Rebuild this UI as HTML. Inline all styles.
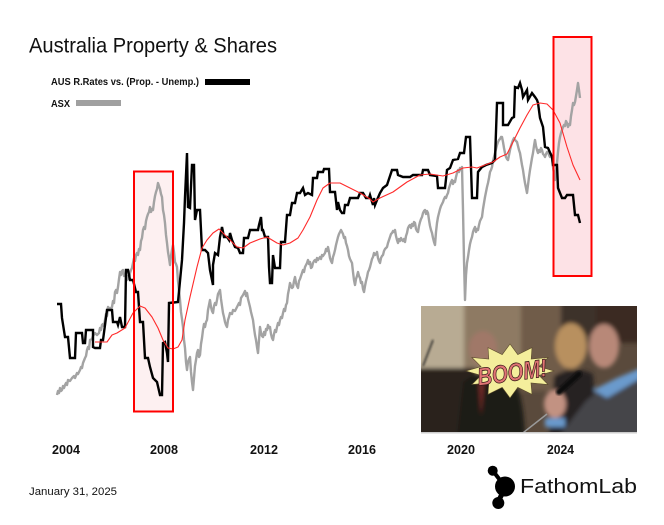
<!DOCTYPE html>
<html>
<head>
<meta charset="utf-8">
<style>
html,body{margin:0;padding:0;background:#fff;}
svg{display:block;}
text{font-family:"Liberation Sans",sans-serif;}
</style>
</head>
<body>
<svg width="664" height="525" viewBox="0 0 664 525" xmlns="http://www.w3.org/2000/svg">
<defs>
<filter id="bl" x="-20%" y="-20%" width="140%" height="140%"><feGaussianBlur stdDeviation="2.2"/></filter>
<filter id="bl2" x="-20%" y="-20%" width="140%" height="140%"><feGaussianBlur stdDeviation="1"/></filter>
<clipPath id="pc"><rect x="0" y="0" width="216" height="127"/></clipPath>
</defs>
<rect width="664" height="525" fill="#fff"/>

<!-- Title -->
<text x="29" y="52.5" font-size="21" fill="#111" textLength="248" lengthAdjust="spacingAndGlyphs">Australia Property &amp; Shares</text>

<!-- Legend -->
<text x="51" y="85" font-size="10.5" font-weight="bold" fill="#111" textLength="148" lengthAdjust="spacingAndGlyphs">AUS R.Rates vs. (Prop. - Unemp.)</text>
<rect x="205" y="79" width="45" height="6" fill="#000"/>
<text x="51" y="107" font-size="10.5" font-weight="bold" fill="#111" textLength="19" lengthAdjust="spacingAndGlyphs">ASX</text>
<rect x="76" y="100" width="45" height="6" fill="#a0a0a0"/>

<!-- highlight rectangles fill -->
<rect x="134" y="171.5" width="39" height="240" fill="#fdf0f1"/>
<rect x="553.5" y="37" width="38" height="239" fill="#fde2e6"/>

<!-- ASX gray -->
<polyline fill="none" stroke="#a3a3a3" stroke-width="2.4" stroke-linejoin="round" points="57,395 58,391 59,393 60,388 61,391 62,390 63,386 64,388 65,385 66,383 67,385 68,380 70,381 72,378 74,376 75,378 77,373 78,374 80,370 81,367 82,368 83,363 85,358 86,356 87,350 88,347 89,349 90,340 92,339 93,336 95,333 97,335 99,333 100,328 101,330 102,325 103,324 104,326 105,320 106,314 107,316 108,307 110,309 112,307 113,301 114,303 115,292 116,290 117,293 118,287 119,279 120,272 121,275 122,271 123,270 124,276 125,274 127,280 128,276 129,279 130,273 131,270 132,268 133,263 134,258 135,261 136,255 137,253 138,255 139,249 140,250 141,241 142,238 143,230 144,227 145,229 146,221 147,217 148,214 149,212 150,207 151,212 152,209 153,210 154,202 155,196 156,192 157,189 158,183 159,186 160,189 161,194 162,197 163,210 164,215 165,223 166,235 167,243 168,252 169,258 170,265 171,256 172,250 173,245 174,252 175,262 176,264 177,267 178,281 179,290 180,300 181,312 182,319 183,327 184,340 185,348 186,362 187,370 188,362 189,359 190,357 191,372 192,382 193,390 194,378 195,366 196,360 197,353 198,350 199,357 200,355 201,344 202,338 203,330 204,324 205,327 206,322 207,320 208,310 209,305 210,300 211,307 212,311 213,313 214,306 215,303 216,305 217,300 218,294 219,292 220,290 221,299 222,306 223,313 224,317 225,322 226,325 227,327 228,320 229,317 230,313 232,314 233,310 235,311 237,307 239,303 240,305 241,298 243,295 245,291 246,296 247,293 248,299 249,303 250,307 251,312 252,316 253,320 254,328 255,335 256,340 257,347 258,353 259,340 260,327 261,333 262,336 263,337 264,332 265,335 266,329 267,330 268,325 269,328 270,327 271,334 272,338 273,340 274,334 275,330 276,332 277,327 278,323 279,325 280,320 281,317 282,318 283,313 284,309 285,311 286,305 287,303 288,294 289,289 290,283 291,286 292,288 293,287 294,281 295,277 296,283 297,286 298,288 299,281 300,279 301,276 302,273 303,270 304,272 305,267 306,265 307,263 308,260 309,264 310,262 311,268 312,267 313,263 314,261 315,260 316,262 317,258 318,260 320,257 321,259 322,255 323,256 325,253 326,249 327,251 328,247 329,252 330,258 331,261 332,263 333,257 334,254 335,250 336,245 337,241 338,237 339,234 340,232 341,230 342,232 343,234 344,238 345,237 346,243 347,246 348,250 349,256 350,259 351,261 352,263 353,272 354,280 355,285 356,279 357,276 358,272 359,276 360,278 361,283 362,282 363,289 364,292 365,286 366,281 367,277 368,272 369,270 370,267 371,263 372,259 373,257 374,253 375,255 376,254 377,252 378,258 379,261 380,263 381,258 382,256 383,255 384,251 385,249 386,248 387,247 388,243 389,240 390,237 391,234 392,233 393,231 394,232 395,230 396,236 397,240 398,243 399,239 400,241 401,238 402,240 403,241 404,239 405,242 406,236 407,233 408,228 409,226 410,225 411,228 412,224 413,226 414,222 415,223 416,229 417,231 418,232 419,226 420,222 421,219 422,217 423,213 424,211 425,210 426,214 427,211 428,213 429,220 430,226 431,230 432,233 433,238 434,242 435,245 436,232 437,223 438,217 439,213 440,209 441,206 442,204 443,202 444,199 445,197 446,198 447,195 448,193 449,188 450,185 451,182 452,180 453,184 454,181 455,182 456,177 457,173 458,170 459,172 460,168 461,170 462,167 463,210 464,260 465,300 466,275 467,263 468,257 469,250 470,244 471,240 472,237 473,232 474,229 475,227 476,232 477,229 478,230 479,225 480,221 481,219 482,217 483,209 484,203 485,197 486,192 487,187 488,183 489,178 490,172 491,170 492,167 493,161 494,157 495,153 496,149 497,145 498,142 499,140 500,139 501,137 502,137 503,142 504,148 505,153 506,157 507,159 508,160 509,155 510,150 511,146 512,143 513,140 514,138 515,140 516,141 517,142 518,146 519,150 520,153 521,159 522,165 523,170 524,177 525,183 526,188 527,193 528,185 529,177 530,170 531,164 532,158 533,153 534,146 535,140 536,146 537,150 538,153 539,150 540,152 541,148 542,150 543,154 544,155 545,157 546,154 547,152 548,152 549,155 550,157 551,154 552,158 553,167 554,174 555,180 556,170 557,163 558,152 559,143 560,137 561,133 562,130 563,127 564,125 565,126 566,121 567,123 568,127 569,124 570,125 571,116 572,110 573,103 574,105 575,102 576,96 577,90 578,83 579,90 580,98"/>

<!-- Black series -->
<polyline fill="none" stroke="#000" stroke-width="2.4" stroke-linejoin="miter" points="57,304 61,304 62,318 65,337 68,337 70,358 75,358 76,333 82,333 83,343 85,343 86,330 93,330 93,347 95,348 100,348 101,340 103,340 107,310 112,310 113,322 117,322 118,325 120,317 122,327 125,327 126,270 128,270 130,280 133,280 136,292 138,292 140,322 143,322 145,358 148,358 150,367 153,378 157,382 160,395 162,395 163,343 165,342 167,353 168,362 169,303 178,302 182,260 184,223 185,197 187,153 188,207 190,208 192,165 194,165 195,220 197,210 200,210 202,250 205,250 208,253 210,270 213,285 213,265 215,253 218,255 220,237 222,227 224,237 227,237 229,240 230,233 232,240 235,247 238,248 240,253 243,253 244,238 248,238 250,230 258,230 259,225 261,217 262,230 263,230 265,237 268,237 269,267 270,283 272,283 273,255 275,268 280,268 281,242 285,242 287,215 290,215 292,203 295,203 297,193 300,193 303,188 305,195 308,193 312,195 313,178 317,178 318,172 323,172 324,169 329,169 330,192 335,192 337,210 338,202 340,210 342,213 344,213 345,205 348,205 350,198 358,198 360,193 363,193 366,198 369,198 370,195 373,205 374,198 375,205 377,200 380,193 383,188 387,185 392,170 397,170 398,175 403,177 410,177 413,175 422,175 423,170 428,170 430,175 437,176 438,188 445,188 447,170 450,168 453,160 458,159 460,153 464,153 466,137 470,137 472,198 477,198 478,172 482,167 486,165 492,163 495,160 497,103 503,103 503,125 508,125 512,118 514,117 515,87 518,88 520,83 522,90 523,97 527,90 528,100 532,93 535,97 537,100 538,103 540,118 543,127 545,147 548,148 552,157 553,165 557,165 558,188 562,198 565,198 567,195 573,195 575,215 578,215 580,223"/>

<!-- Red MA -->
<polyline fill="none" stroke="#ff2a2a" stroke-width="1.1" stroke-linejoin="round" points="95,342 107,342 112,335 117,333 125,328 133,313 140,306 145,308 152,317 158,328 163,340 168,348 173,349 178,347 182,340 185,320 190,297 197,267 202,248 207,240 213,233 219,229 223,233 230,240 237,247 243,248 250,243 260,239 267,237 272,240 277,243 283,245 290,243 298,238 303,230 310,217 317,200 323,188 330,183 340,183 350,188 360,193 370,199 373,202 380,198 393,192 407,182 420,175 430,174 443,176 453,173 463,168 472,167 477,168 485,165 493,162 500,157 507,154 513,142 520,128 527,115 533,105 540,103 547,104 553,110 560,123 567,147 573,165 580,180"/>

<!-- rectangle borders -->
<rect x="134" y="171.5" width="39" height="240" fill="none" stroke="#ff0000" stroke-width="2"/>
<rect x="553.5" y="37" width="38" height="239" fill="none" stroke="#ff0000" stroke-width="2"/>

<!-- Photo -->
<g transform="translate(421,306)">
<g clip-path="url(#pc)">
<rect x="0" y="0" width="216" height="127" fill="#5a4a3c"/>
<g filter="url(#bl)">
<rect x="-5" y="-5" width="48" height="72" fill="#b8ab93"/>
<rect x="43" y="-5" width="62" height="85" fill="#8e7a64"/>
<rect x="100" y="-5" width="45" height="90" fill="#705c4a"/>
<rect x="140" y="-5" width="80" height="35" fill="#3c3129"/>
<rect x="-5" y="62" width="60" height="70" fill="#2a231e"/>
<ellipse cx="62" cy="42" rx="14" ry="17" fill="#a07868"/>
<path d="M36,130 L42,76 Q62,60 88,68 Q102,80 104,130 Z" fill="#1f1a18"/>
<path d="M58,75 L63,75 L60,110 Z" fill="#7a2a2a"/>
<ellipse cx="150" cy="40" rx="16" ry="23" fill="#b8905e"/>
<path d="M128,130 L133,70 Q152,58 172,68 L176,130 Z" fill="#262220"/>
<rect x="175" y="-5" width="45" height="42" fill="#3b2a22"/>
<ellipse cx="183" cy="40" rx="15" ry="22" fill="#b88878"/>
<path d="M138,130 L165,95 L186,78 L220,62 L220,130 Z" fill="#44444a"/>
<path d="M172,84 L196,72 L220,62 L220,72 L186,92 Z" fill="#6a9acc"/>
<ellipse cx="134" cy="98" rx="11" ry="14" fill="#c29282"/>
<rect x="124" y="112" width="20" height="9" fill="#6a9acc"/>
</g>
<line x1="138" y1="86" x2="158" y2="68" stroke="#111" stroke-width="6" stroke-linecap="round" filter="url(#bl2)"/>
<line x1="126" y1="108" x2="98" y2="130" stroke="#9a9a9a" stroke-width="1.5"/>
<line x1="2" y1="60" x2="12" y2="34" stroke="#222" stroke-width="1.5" filter="url(#bl2)"/>
<polygon points="133,65 118,69.4 127,78.5 110,77 111,88.4 96.8,81.4 89,92 81.2,81.4 67,88.4 67.8,77 50.9,78.5 60,69.4 45,65 60,60.6 50.9,51.5 67.8,53 67,41.6 81.2,48.6 89,38 96.8,48.6 111,41.6 110.2,53 127.1,51.5 118,60.6" fill="#f4ee9c" stroke="#5a4a2a" stroke-width="0.6"/>
<text x="91" y="75" font-size="25" font-weight="bold" font-style="italic" fill="#e07474" stroke="#3a1a1a" stroke-width="0.8" text-anchor="middle" textLength="70" lengthAdjust="spacingAndGlyphs" transform="rotate(-8 91 66)">BOOM!</text>
</g>
<rect x="0" y="126" width="216" height="1.5" fill="#ccc"/>
</g>

<!-- x axis labels -->
<g font-size="12.5" font-weight="bold" fill="#111">
<text x="52" y="454" textLength="28" lengthAdjust="spacingAndGlyphs">2004</text>
<text x="150" y="454" textLength="28" lengthAdjust="spacingAndGlyphs">2008</text>
<text x="250" y="454" textLength="28" lengthAdjust="spacingAndGlyphs">2012</text>
<text x="348" y="454" textLength="28" lengthAdjust="spacingAndGlyphs">2016</text>
<text x="447" y="454" textLength="28" lengthAdjust="spacingAndGlyphs">2020</text>
<text x="547" y="454" textLength="27" lengthAdjust="spacingAndGlyphs">2024</text>
</g>

<!-- date -->
<text x="29" y="495" font-size="11" fill="#111" textLength="88" lengthAdjust="spacingAndGlyphs">January 31, 2025</text>

<!-- Logo -->
<g fill="#000">
<circle cx="492.7" cy="470.7" r="5"/>
<circle cx="505" cy="486.5" r="10"/>
<circle cx="498.3" cy="503" r="6"/>
<line x1="493" y1="471" x2="503" y2="484" stroke="#000" stroke-width="4"/>
<line x1="498" y1="502" x2="504" y2="490" stroke="#000" stroke-width="5"/>
</g>
<text x="520" y="493" font-size="20" fill="#111" textLength="117" lengthAdjust="spacingAndGlyphs">FathomLab</text>
</svg>
</body>
</html>
